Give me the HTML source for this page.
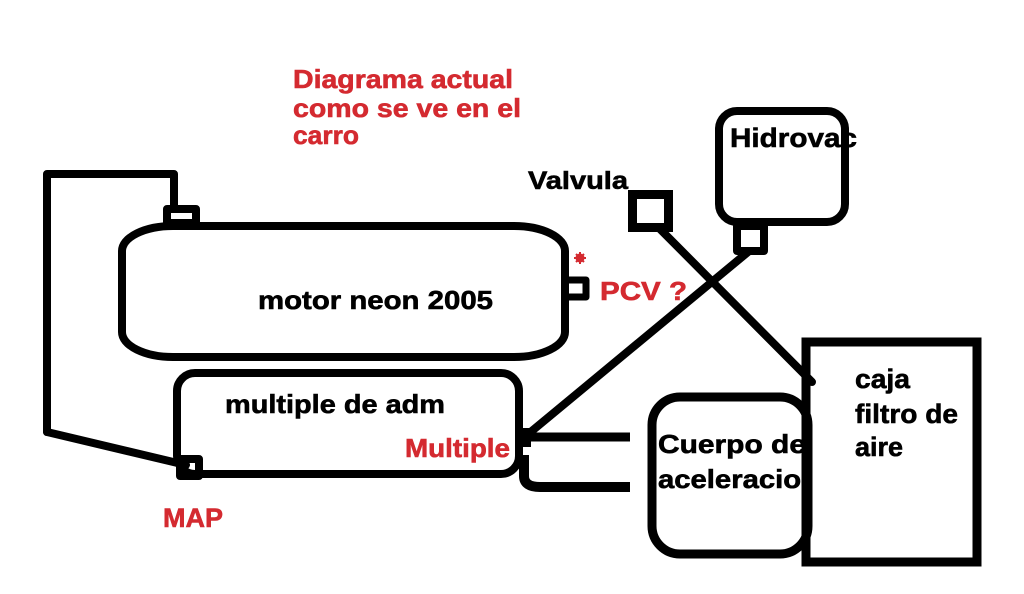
<!DOCTYPE html>
<html>
<head>
<meta charset="utf-8">
<style>
  html, body { margin: 0; padding: 0; background: #fff; }
  svg { display: block; }
  text { font-family: "Liberation Sans", Arial, sans-serif; font-weight: bold; }
</style>
</head>
<body>
<svg width="1024" height="594" viewBox="0 0 1024 594" xmlns="http://www.w3.org/2000/svg">
  <rect x="0" y="0" width="1024" height="594" fill="#ffffff"/>

  <!-- Title (red) -->
  <g fill="#d42a30" stroke="#d42a30" stroke-width="0.6" font-size="26">
    <text x="293" y="88" textLength="220" lengthAdjust="spacingAndGlyphs">Diagrama actual</text>
    <text x="293" y="117" textLength="228" lengthAdjust="spacingAndGlyphs">como se ve en el</text>
    <text x="293" y="144" textLength="66" lengthAdjust="spacingAndGlyphs">carro</text>
  </g>

  <!-- Black labels -->
  <g fill="#000" stroke="#000" stroke-width="0.6" font-size="26">
    <text x="528" y="189" font-size="25" textLength="100" lengthAdjust="spacingAndGlyphs">Valvula</text>
    <text x="730" y="147" font-size="27" textLength="127" lengthAdjust="spacingAndGlyphs">Hidrovac</text>
    <text x="258" y="309" textLength="235" lengthAdjust="spacingAndGlyphs">motor neon 2005</text>
    <text x="225" y="413" textLength="220" lengthAdjust="spacingAndGlyphs">multiple de adm</text>
    <text x="658" y="453" textLength="148" lengthAdjust="spacingAndGlyphs">Cuerpo de</text>
    <text x="658" y="488" textLength="161" lengthAdjust="spacingAndGlyphs">aceleracion</text>
  </g>

  <!-- Red labels -->
  <g fill="#d42a30" stroke="#d42a30" stroke-width="0.6" font-size="26">
    <text x="600" y="300" textLength="87" lengthAdjust="spacingAndGlyphs">PCV ?</text>
    <text x="405" y="457" textLength="105" lengthAdjust="spacingAndGlyphs">Multiple</text>
    <text x="163" y="527" font-size="27" textLength="60" lengthAdjust="spacingAndGlyphs">MAP</text>
  </g>

  <!-- red asterisk -->
  <g stroke="#d42a30" stroke-width="2" fill="#d42a30">
    <circle cx="580" cy="258" r="3.5"/>
    <line x1="580" y1="252" x2="580" y2="264"/>
    <line x1="574" y1="258" x2="586" y2="258"/>
    <line x1="576" y1="254" x2="584" y2="262"/>
    <line x1="584" y1="254" x2="576" y2="262"/>
  </g>

  <g fill="none" stroke="#000" stroke-width="8" stroke-linejoin="round" stroke-linecap="round">
    <!-- left wire -->
    <path d="M47,432 L47,174 L174,174 L174,207"/>
    <path d="M47,432 L186,465"/>
    <!-- motor top connector -->
    <rect x="167" y="209" width="29" height="14"/>
    <!-- motor -->
    <rect x="122" y="226" width="443" height="131" rx="51" ry="25"/>
    <!-- PCV connector -->
    <path d="M565,280 L586,280 L586,297 L565,297" stroke-width="7"/>
    <!-- multiple -->
    <rect x="177" y="373" width="342" height="101" rx="18" ry="18"/>
    <!-- MAP connector -->
    <rect x="180" y="459" width="19" height="17"/>
    <!-- lines to throttle body -->
    <path d="M525,437 L630,437" stroke-width="9" stroke-linecap="butt"/>
    <path d="M524,455 L524,476 Q524,487 540,487 L630,487" stroke-width="10" stroke-linecap="butt"/>
    <!-- diagonal to hidrovac -->
    <path d="M527,435 L748,252"/>
    <!-- hidrovac -->
    <rect x="719" y="111" width="126" height="111" rx="18" ry="18"/>
    <rect x="737" y="226" width="27" height="25"/>
    <!-- valvula square -->
    <rect x="632.5" y="194.5" width="36" height="33" stroke-width="9" stroke-linejoin="miter"/>
  </g>

  <!-- multiple connector blob -->
  <rect x="519" y="428" width="12" height="19" fill="#000"/>

  <!-- caja filtro de aire -->
  <rect x="806" y="342" width="171" height="220" fill="#fff" stroke="#000" stroke-width="9"/>
  <!-- cuerpo de aceleracion -->
  <rect x="652" y="397" width="156" height="157" rx="28" ry="28" fill="none" stroke="#000" stroke-width="9"/>

  <g fill="#000" stroke="#000" stroke-width="0.6" font-size="27">
    <text x="855" y="388" textLength="55" lengthAdjust="spacingAndGlyphs">caja</text>
    <text x="855" y="423" textLength="103" lengthAdjust="spacingAndGlyphs">filtro de</text>
    <text x="855" y="456" textLength="48" lengthAdjust="spacingAndGlyphs">aire</text>
  </g>

  <!-- valvula line -->
  <path d="M659,228 L812,382" fill="none" stroke="#000" stroke-width="8" stroke-linecap="round"/>
</svg>
</body>
</html>
